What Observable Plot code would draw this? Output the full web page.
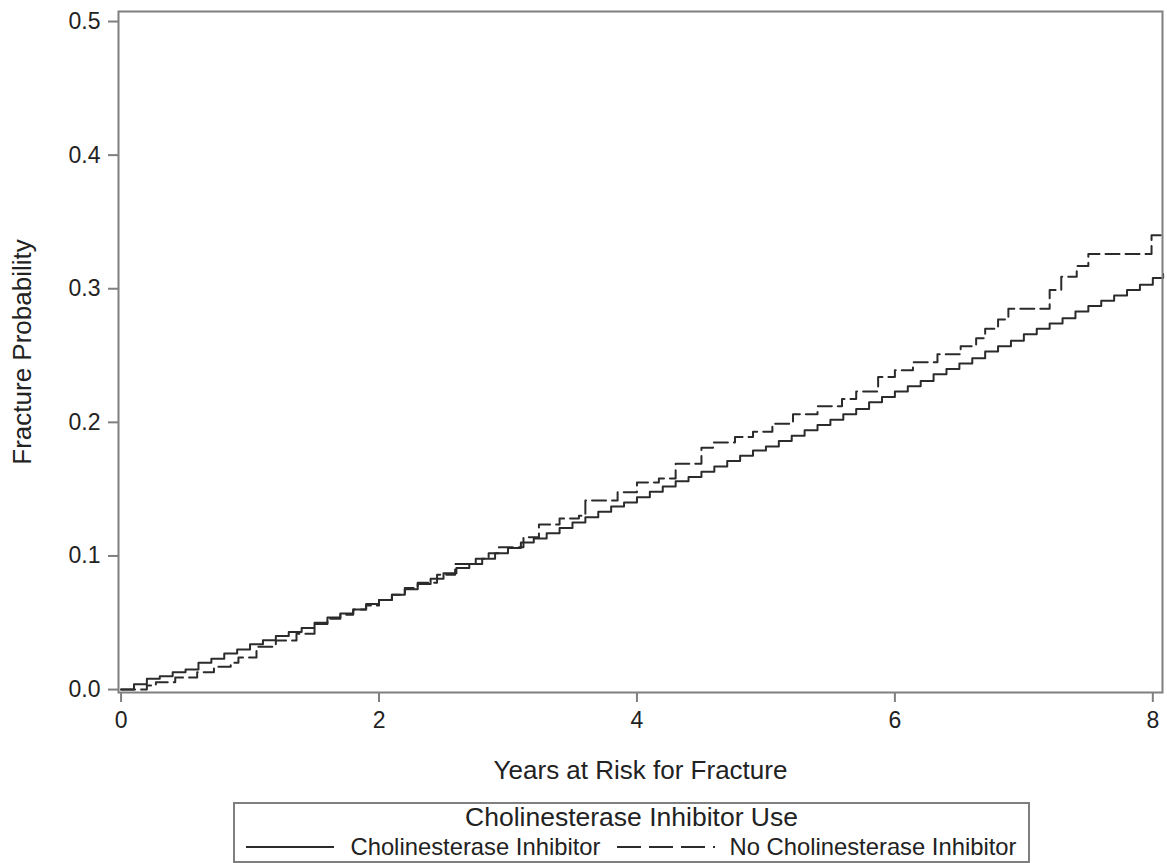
<!DOCTYPE html>
<html>
<head>
<meta charset="utf-8">
<script src="https://cdn.jsdelivr.net/npm/d3@7"></script>
<script src="https://cdn.jsdelivr.net/npm/@observablehq/plot@0.6"></script>
<style>
  html, body { margin: 0; padding: 0; background: #fff; }
  #wrap { position: relative; width: 1167px; height: 863px; overflow: hidden; font-family: "Liberation Sans", Arial, sans-serif; color: #222; }
  #legend { position: absolute; left: 233px; top: 802px; width: 797px; height: 61px; border: 2px solid #7f7f7f; box-sizing: border-box; background: #fff; }
  #legend .title { position: absolute; left: 0; right: 0; top: -1px; text-align: center; font-size: 26.5px; line-height: 28px; }
  #legend .row { position: absolute; left: 0; right: 0; top: 29px; display: flex; justify-content: center; align-items: center; font-size: 23.8px; line-height: 28px; white-space: nowrap; }
  #legend svg { display: block; }
</style>
</head>
<body>
<div id="wrap">
  <div id="chart"></div>
  <div id="legend">
    <div class="title">Cholinesterase Inhibitor Use</div>
    <div class="row">
      <svg width="88" height="10"><line x1="0" y1="5" x2="88" y2="5" stroke="#2b2b2b" stroke-width="2"/></svg>
      <span style="margin-left:16px;margin-right:17px">Cholinesterase Inhibitor</span>
      <svg width="100" height="10"><line x1="0" y1="5" x2="100" y2="5" stroke="#2b2b2b" stroke-width="2" stroke-dasharray="24,8,24,8,24,8,2,20"/></svg>
      <span style="margin-left:12px">No Cholinesterase Inhibitor</span>
    </div>
  </div>
</div>
<script>
// Tick values
const xTicks = [0, 2, 4, 6, 8];
const yTicks = [0, 0.1, 0.2, 0.3, 0.4, 0.5];

// Cholinesterase Inhibitor (solid) – step starts (years) and cumulative fracture probability
const inhibitorTime = [0,0.1,0.2,0.3,0.4,0.5,0.6,0.7,0.8,0.9,1.0,1.1,1.2,1.3,1.4,1.5,1.6,1.7,1.8,1.9,
  2.0,2.1,2.2,2.3,2.4,2.5,2.6,2.7,2.8,2.9,3.0,3.1,3.2,3.3,3.4,3.5,3.6,3.7,3.8,3.9,
  4.0,4.1,4.2,4.3,4.4,4.5,4.6,4.7,4.8,4.9,5.0,5.1,5.2,5.3,5.4,5.5,5.6,5.7,5.8,5.9,
  6.0,6.1,6.2,6.3,6.4,6.5,6.6,6.7,6.8,6.9,7.0,7.1,7.2,7.3,7.4,7.5,7.6,7.7,7.8,7.9,8.0,8.08];
const inhibitorProb = [0.000,0.004,0.008,0.010,0.013,0.015,0.020,0.023,0.027,0.030,0.034,0.037,0.040,0.043,0.046,0.050,0.054,0.057,0.060,0.064,
  0.067,0.071,0.075,0.079,0.083,0.087,0.091,0.094,0.098,0.102,0.106,0.110,0.113,0.117,0.121,0.125,0.129,0.133,0.137,0.140,
  0.144,0.148,0.152,0.156,0.159,0.163,0.167,0.171,0.175,0.179,0.182,0.186,0.190,0.194,0.198,0.202,0.206,0.210,0.215,0.219,
  0.223,0.227,0.231,0.236,0.240,0.244,0.248,0.253,0.257,0.261,0.266,0.270,0.274,0.278,0.283,0.287,0.291,0.295,0.299,0.303,0.308,0.311];

// No Cholinesterase Inhibitor (dashed)
const noInhibitorTime = [0,0.2,0.27,0.42,0.59,0.72,0.85,0.91,1.05,1.2,1.36,1.5,1.6,1.7,1.8,1.9,2.0,2.1,2.2,2.3,
  2.45,2.59,2.75,2.85,2.93,3.12,3.24,3.4,3.55,3.6,3.85,4.0,4.17,4.3,4.5,4.59,4.76,4.9,5.05,5.21,
  5.4,5.59,5.7,5.87,6.0,6.14,6.33,6.51,6.63,6.7,6.8,6.88,7.2,7.29,7.41,7.5,7.99,8.08];
const noInhibitorProb = [0.000,0.003,0.0055,0.009,0.013,0.017,0.020,0.024,0.032,0.0367,0.0417,0.049,0.053,0.056,0.060,0.063,0.067,0.071,0.076,0.080,
  0.086,0.094,0.098,0.102,0.1065,0.114,0.1235,0.128,0.130,0.1415,0.1477,0.155,0.158,0.169,0.181,0.185,0.189,0.193,0.199,0.206,
  0.212,0.2175,0.223,0.234,0.239,0.245,0.251,0.257,0.263,0.270,0.277,0.285,0.299,0.309,0.317,0.326,0.340,0.340];

const inhibitor = inhibitorTime.map((t, i) => ({t, p: inhibitorProb[i]}));
const noInhibitor = noInhibitorTime.map((t, i) => ({t, p: noInhibitorProb[i]}));

const font = '"Liberation Sans", Arial, sans-serif';
const chart = Plot.plot({
  width: 1167,
  height: 795,
  marginTop: 11,
  marginLeft: 118,
  marginRight: 5,
  marginBottom: 103,
  style: {fontFamily: font, fontSize: "22px", color: "#222", background: "#fff"},
  x: {domain: [-0.02, 8.075]},
  y: {domain: [-0.0022, 0.5075]},
  marks: [
    Plot.line(inhibitor, {x: "t", y: "p", curve: "step-after", stroke: "#2b2b2b", strokeWidth: 2}),
    Plot.line(noInhibitor, {x: "t", y: "p", curve: "step-after", stroke: "#2b2b2b", strokeWidth: 2, strokeDasharray: "14,6"}),
    Plot.frame({stroke: "#7f7f7f", strokeWidth: 2}),
    Plot.axisX(xTicks, {tickSize: 10, tickPadding: 9, tickFormat: d3.format("d"), stroke: "#7f7f7f", strokeWidth: 2, fill: "#222", label: null, fontSize: 23}),
    Plot.axisY(yTicks, {tickSize: 10, tickPadding: 8, tickFormat: d3.format(".1f"), stroke: "#7f7f7f", strokeWidth: 2, fill: "#222", label: null, fontSize: 23}),
    Plot.text(["Years at Risk for Fracture"], {frameAnchor: "bottom", lineAnchor: "middle", dy: 78, fontSize: 26, fill: "#222"}),
    Plot.text(["Fracture Probability"], {frameAnchor: "left", textAnchor: "middle", lineAnchor: "middle", dx: -96, rotate: -90, fontSize: 26, fill: "#222"})
  ]
});
document.getElementById("chart").appendChild(chart);
</script>
</body>
</html>
